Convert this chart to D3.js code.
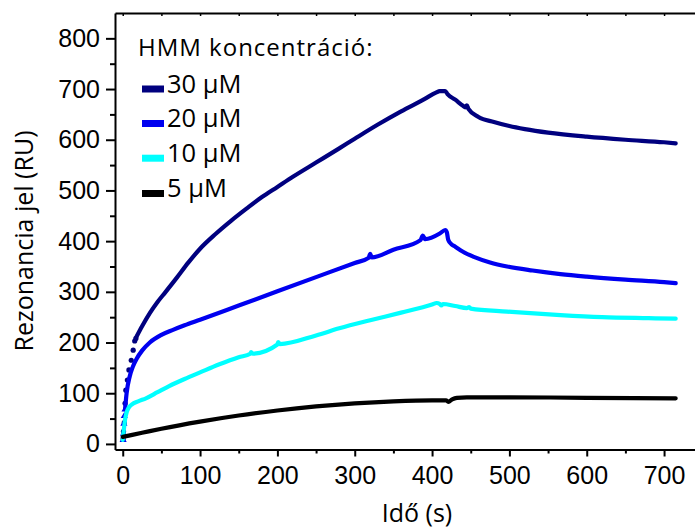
<!DOCTYPE html>
<html>
<head>
<meta charset="utf-8">
<script src="https://cdn.jsdelivr.net/npm/d3@7/dist/d3.min.js"></script>
<style>
  html, body { margin: 0; padding: 0; background: #fff; }
  svg { display: block; }
</style>
</head>
<body>
<svg id="chart" width="695" height="530"></svg>
<script>
// ---- data (time in s, signal in RU) ----
const seriesNames = ["30 µM", "20 µM", "10 µM", "5 µM"];
const seriesColors = ["#00007f", "#0000f0", "#00ffff", "#000000"];

const conc30 = [[18,212],[25,232],[35,258],[45,280],[55,299],[70,328],[85,358],[100,385],[120,414],[140,440],[160,464],[180,487],[200,507],[220,527],[250,555],[280,583],[300,602],[330,630],[360,656],[390,680],[405,693],[410,696],[417,696],[420,690],[430,679],[440,667],[443,664],[445,668],[447,661],[460,645],[480,635],[500,627],[520,621],[550,614],[600,606],[650,600],[700,595],[715,593]];
const conc30Early = [[0.5,10],[1,25],[2,42],[3,80],[4,106],[6,126],[8,146],[11,165],[13.5,185],[15.5,203],[17,208]];

const conc20 = [[3,68],[5,100],[9,133],[13,152],[18,168],[25,184],[35,200],[50,215],[65,225],[80,234],[100,245],[150,273],[200,301],[250,329],[300,357],[318,367],[320,375],[322,368],[350,383],[385,402],[388,411],[391,404],[410,415],[417,422],[419,418],[421,402],[425,394],[430,389],[440,379],[454,369],[475,358],[497,350],[530,342],[566,335],[600,330],[650,324],[700,319],[715,317]];
const conc20Early = [[0.5,8],[1,20],[1.5,40],[2,55],[3,68]];

const conc10 = [[0,8],[1,22],[2,36],[3,48],[5,62],[8,72],[12,78],[20,84],[30,90],[45,102],[60,114],[80,128],[100,141],[125,157],[150,171],[165,178],[166,181],[168,178],[200,196],[201,201],[203,197],[250,214],[280,228],[320,244],[360,259],[400,275],[406,278],[410,276],[412,273],[414,276],[430,272],[445,268],[448,270],[450,267],[497,261],[566,254],[620,250],[680,248],[715,247]];

const conc5 = [[0,14],[25,22],[50,30],[100,44],[150,56],[200,66],[250,74],[300,80],[350,84],[400,86],[418,86],[421,83],[426,88],[432,91],[445,92],[500,92],[600,91],[715,90]];

const xTicks = [0,100,200,300,400,500,600,700];
const yTicks = [0,100,200,300,400,500,600,700,800];
const xMinor = [50,150,250,350,450,550,650];
const yMinor = [50,150,250,350,450,550,650,750];

const legendTitle = "HMM koncentráció:";
const xTitle = "Idő (s)";
const yTitle = "Rezonancia jel (RU)";

// ---- scales ----
const svg = d3.select("#chart");
const x = d3.scaleLinear().domain([-10, 740]).range([115, 695]);
const y = d3.scaleLinear().domain([-11, 850]).range([449.5, 13]);

const tickFont = "'Liberation Sans', Arial, sans-serif";
const textFont = "'Open Sans', sans-serif";

// ---- series ----
const line = d3.line().curve(d3.curveMonotoneX).x(d => x(d[0])).y(d => y(d[1]));
const allSeries = [conc30, conc20, conc10, conc5];

// early sparse symbols
svg.append("g").selectAll("circle").data(conc30Early).join("circle")
  .attr("cx", d => x(d[0])).attr("cy", d => y(d[1])).attr("r", 2.6)
  .attr("fill", seriesColors[0]);

allSeries.forEach((s, i) => {
  if (i === 1) {
    svg.append("g").selectAll("path").data(conc20Early).join("path")
      .attr("d", d3.symbol().type(d3.symbolTriangle).size(22))
      .attr("transform", d => `translate(${x(d[0])},${y(d[1])})`)
      .attr("fill", seriesColors[1]);
  }
  svg.append("path").datum(s)
    .attr("d", line)
    .attr("fill", "none")
    .attr("stroke", seriesColors[i])
    .attr("stroke-width", 4.2)
    .attr("stroke-linejoin", "round")
    .attr("stroke-linecap", "round");
});

// ---- axes ----
function styleAxis(g) {
  g.selectAll("path.domain").attr("stroke", "#000").attr("stroke-width", 2);
  g.selectAll(".tick line").attr("stroke", "#000").attr("stroke-width", 2);
}

const xAxis = svg.append("g").attr("transform", "translate(0,449.5)")
  .call(d3.axisBottom(x).tickValues(xTicks).tickSize(7).tickSizeOuter(0).tickPadding(10));
xAxis.call(styleAxis);
xAxis.selectAll("text").attr("font-family", tickFont).attr("font-size", 25).attr("fill", "#000");
svg.append("g").attr("transform", "translate(0,449.5)")
  .call(d3.axisBottom(x).tickValues(xMinor).tickSize(4).tickFormat("")).call(styleAxis)
  .select("path.domain").remove();

const yAxis = svg.append("g").attr("transform", "translate(115,0)")
  .call(d3.axisLeft(y).tickValues(yTicks).tickSize(9).tickSizeOuter(0).tickPadding(6));
yAxis.call(styleAxis);
yAxis.selectAll("text").attr("font-family", tickFont).attr("font-size", 25).attr("fill", "#000");
svg.append("g").attr("transform", "translate(115,0)")
  .call(d3.axisLeft(y).tickValues(yMinor).tickSize(5).tickFormat("")).call(styleAxis)
  .select("path.domain").remove();

// top frame line with small inward ticks
const topAxis = svg.append("g").attr("transform", "translate(0,13)")
  .call(d3.axisTop(x).tickValues(xTicks.concat(xMinor)).tickSize(-3).tickSizeOuter(0).tickFormat(""));
topAxis.call(styleAxis);
topAxis.selectAll(".tick line").attr("stroke-width", 1.5);

// ---- titles ----
svg.append("text").attr("x", 417).attr("y", 522)
  .attr("text-anchor", "middle").attr("font-family", textFont).attr("font-size", 25)
  .text(xTitle);
svg.append("text").attr("transform", "translate(33,241) rotate(-90)")
  .attr("text-anchor", "middle").attr("font-family", textFont).attr("font-size", 25)
  .text(yTitle);

// ---- legend ----
svg.append("text").attr("x", 138).attr("y", 55.5)
  .attr("font-family", textFont).attr("font-size", 24).attr("letter-spacing", 1)
  .text(legendTitle);
const legendBase = [92.5, 127, 161.7, 197];
seriesNames.forEach((n, i) => {
  svg.append("rect").attr("x", 142).attr("y", legendBase[i] - 7).attr("width", 22).attr("height", 7)
    .attr("fill", seriesColors[i]);
  svg.append("text").attr("x", 167).attr("y", legendBase[i])
    .attr("font-family", textFont).attr("font-size", 25.5)
    .text(n);
});
</script>
</body>
</html>
